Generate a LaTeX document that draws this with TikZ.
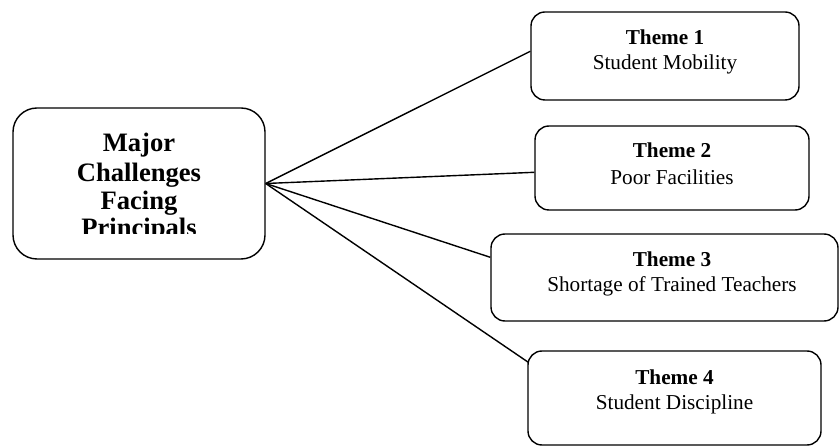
\documentclass[tikz,border=0pt]{standalone}
\usepackage{fontspec}
\setmainfont{Liberation Serif}
\usetikzlibrary{calc}
\begin{document}
\begin{tikzpicture}[x=1bp,y=-1bp,
  box/.style={draw,line width=1.4bp,rounded corners=14bp,inner sep=0pt},
  mainbox/.style={draw,line width=1.4bp,rounded corners=24bp,inner sep=0pt},
  link/.style={line width=1.4bp},
  hd/.style={anchor=base,inner sep=0pt,font=\fontsize{21.3}{25}\selectfont\bfseries},
  sub/.style={anchor=base,inner sep=0pt,font=\fontsize{21.3}{25}\selectfont},
  mt/.style={anchor=base,inner sep=0pt,font=\fontsize{26.7}{30}\selectfont\bfseries}]
\useasboundingbox (0,0) rectangle (840,446);
\node[mainbox,minimum width=252bp,minimum height=151bp] (main) at (139,183.5) {};
\begin{scope}
\clip (0,0) rectangle (840,234);
\node[mt] (m1) at (139,152) {Major};
\node[mt] (m2) at (139,181.5) {Challenges};
\node[mt] (m3) at (139,210) {Facing};
\node[mt] (m4) at (139,237) {Principals};
\end{scope}
\node[box,minimum width=268bp,minimum height=88bp] (t1) at (665,56) {};
\node[box,minimum width=274bp,minimum height=84bp] (t2) at (672,168) {};
\node[box,minimum width=347bp,minimum height=87bp] (t3) at (664.5,277.5) {};
\node[box,minimum width=293bp,minimum height=94bp] (t4) at (674.5,398) {};
\node[hd] (h1) at (665,45) {Theme 1};
\node[sub] (s1) at (665,70) {Student Mobility};
\node[hd] (h2) at (672,158) {Theme 2};
\node[sub] (s2) at (672,185) {Poor Facilities};
\node[hd] (h3) at (672,267) {Theme 3};
\node[sub] (s3) at (672,292) {Shortage of Trained Teachers};
\node[hd] (h4) at (674.5,385) {Theme 4};
\node[sub] (s4) at (674.5,409) {Student Discipline};
\coordinate (e1) at ($(t1.north west)+(0,40)$);
\coordinate (e2) at ($(t2.north west)+(0,47)$);
\coordinate (e3) at ($(t3.north west)+(0,24)$);
\coordinate (e4) at ($(t4.north west)+(1,12)$);
\draw[link] (main.east) -- (e1);
\draw[link] (main.east) -- (e2);
\draw[link] (main.east) -- (e3);
\draw[link] (main.east) -- (e4);
\end{tikzpicture}
\end{document}
